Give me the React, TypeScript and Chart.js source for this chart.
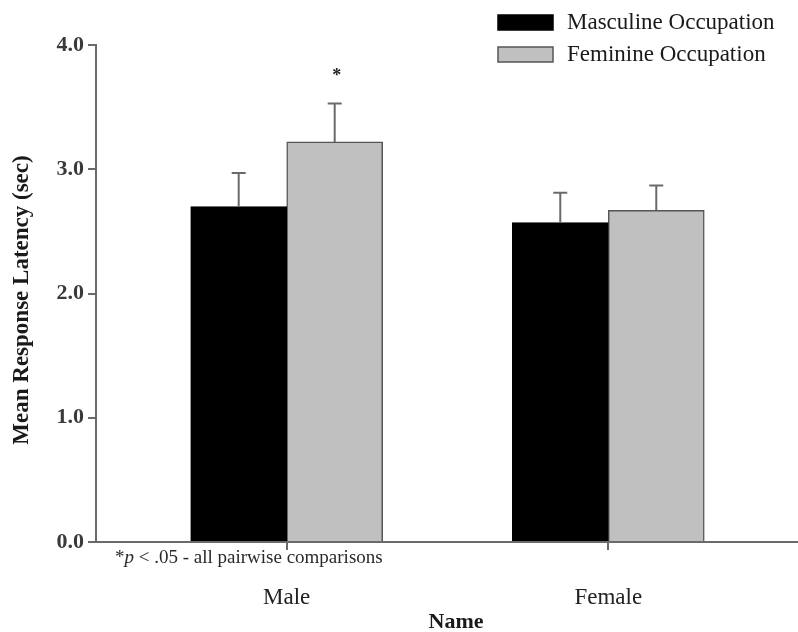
import React, { useEffect, useRef } from "react";
import { Chart, registerables } from "chart.js";

Chart.register(...registerables);

const categories = ["Male", "Female"];
const seriesNames = ["Masculine Occupation", "Feminine Occupation"];
const masculine = [2.7, 2.57];
const feminine = [3.22, 2.67];
const masculineErr = [0.27, 0.24];
const feminineErr = [0.31, 0.2];
const yTicks = [0, 1, 2, 3, 4];
const footnote = "*p < .05 - all pairwise comparisons";

const SERIF = "'Liberation Serif', 'Times New Roman', serif";
const AXIS_GREY = "#6a6a6a";

export default function App() {
  const ref = useRef<HTMLCanvasElement | null>(null);

  useEffect(() => {
    document.body.style.margin = "0";
    const canvas = ref.current;
    if (!canvas) return;

    const errors = [masculineErr, feminineErr];

    const annotations = {
      id: "annotations",
      afterDatasetsDraw(chart: any) {
        const ctx = chart.ctx;
        const ys = chart.scales.y;
        ctx.save();
        errors.forEach((errs, di) => {
          const meta = chart.getDatasetMeta(di);
          meta.data.forEach((bar: any, i: number) => {
            const v = (di === 0 ? masculine : feminine)[i];
            const top = ys.getPixelForValue(v + errs[i]);
            const base = ys.getPixelForValue(v);
            ctx.strokeStyle = AXIS_GREY;
            ctx.lineWidth = 2;
            ctx.beginPath();
            ctx.moveTo(bar.x, base);
            ctx.lineTo(bar.x, top);
            ctx.moveTo(bar.x - 7, top);
            ctx.lineTo(bar.x + 7, top);
            ctx.stroke();
          });
        });
        const fb = chart.getDatasetMeta(1).data[0];
        ctx.fillStyle = "#222";
        ctx.font = `bold 18px ${SERIF}`;
        ctx.textAlign = "center";
        ctx.textBaseline = "middle";
        ctx.fillText("*", fb.x + 2, ys.getPixelForValue(feminine[0] + feminineErr[0]) - 27);
        ctx.restore();
      },
      afterDraw(chart: any) {
        const ctx = chart.ctx;
        ctx.save();
        const colors = ["#000000", "#c0c0c0"];
        const borders = ["#000000", "#555555"];
        seriesNames.forEach((name, i) => {
          const y = 15 + i * 32;
          ctx.fillStyle = colors[i];
          ctx.fillRect(498, y, 55, 15);
          ctx.strokeStyle = borders[i];
          ctx.lineWidth = 1.5;
          ctx.strokeRect(498, y, 55, 15);
          ctx.fillStyle = "#1a1a1a";
          ctx.font = `23px ${SERIF}`;
          ctx.textAlign = "left";
          ctx.textBaseline = "middle";
          ctx.fillText(name, 567, y + 8, 212);
        });
        ctx.fillStyle = "#2a2a2a";
        ctx.textBaseline = "middle";
        ctx.textAlign = "left";
        let x = 115;
        const fy = 558;
        ctx.font = `19px ${SERIF}`;
        ctx.fillText("*", x, fy);
        x += ctx.measureText("*").width;
        ctx.font = `italic 19px ${SERIF}`;
        ctx.fillText("p", x, fy);
        x += ctx.measureText("p").width;
        ctx.font = `19px ${SERIF}`;
        ctx.fillText(footnote.slice(2), x, fy, 390 - x);
        ctx.fillStyle = "#1a1a1a";
        ctx.font = `bold 22px ${SERIF}`;
        ctx.textAlign = "center";
        ctx.fillText("Name", 456, 622);
        ctx.font = `bold 23px ${SERIF}`;
        ctx.translate(22, 300);
        ctx.rotate(-Math.PI / 2);
        ctx.fillText("Mean Response Latency (sec)", 0, 0, 298);
        ctx.restore();
      },
    };

    const chart = new Chart(canvas, {
      type: "bar",
      data: {
        datasets: [
          {
            label: seriesNames[0],
            data: categories.map((_, i) => ({ x: i, y: masculine[i] })),
            backgroundColor: "#000000",
            borderColor: "#000000",
            borderWidth: 1.5,
            barThickness: 96,
          },
          {
            label: seriesNames[1],
            data: categories.map((_, i) => ({ x: i, y: feminine[i] })),
            backgroundColor: "#c0c0c0",
            borderColor: "#555555",
            borderWidth: 1.5,
            barThickness: 96,
          },
        ] as any,
      },
      options: {
        animation: false,
        responsive: false,
        layout: { padding: { top: 45, left: 0, right: 0, bottom: 0 } },
        plugins: { legend: { display: false }, tooltip: { enabled: false } },
        scales: {
          x: {
            type: "linear",
            offset: false,
            min: -0.593,
            max: 1.59,
            afterBuildTicks(scale: any) {
              scale.ticks = categories.map((_, i) => ({ value: i }));
            },
            afterFit(scale: any) {
              scale.height = 90;
            },
            ticks: {
              callback: (v: any) => categories[Number(v)] ?? "",
              color: "#222",
              font: { family: SERIF, size: 23 },
              padding: 34,
              maxRotation: 0,
            },
            grid: {
              offset: false,
              drawOnChartArea: false,
              drawTicks: true,
              tickLength: 8,
              color: AXIS_GREY,
              lineWidth: 2,
            },
            border: { color: AXIS_GREY, width: 2 },
          },
          y: {
            min: 0,
            max: 4,
            afterBuildTicks(scale: any) {
              scale.ticks = yTicks.map((v) => ({ value: v }));
            },
            afterFit(scale: any) {
              scale.width = 96;
            },
            ticks: {
              callback: (v: any) => Number(v).toFixed(1),
              color: "#3a3a3a",
              font: { family: SERIF, size: 22, weight: "bold" },
              padding: 4,
            },
            grid: {
              drawOnChartArea: false,
              drawTicks: true,
              tickLength: 8,
              color: AXIS_GREY,
              lineWidth: 2,
            },
            border: { color: AXIS_GREY, width: 2 },
          },
        },
      },
      plugins: [annotations],
    } as any);

    return () => chart.destroy();
  }, []);

  return (
    <div style={{ position: "absolute", left: 0, top: 0, width: 798, height: 632, background: "#fff" }}>
      <canvas ref={ref} width={798} height={632} style={{ width: 798, height: 632 }} />
    </div>
  );
}
